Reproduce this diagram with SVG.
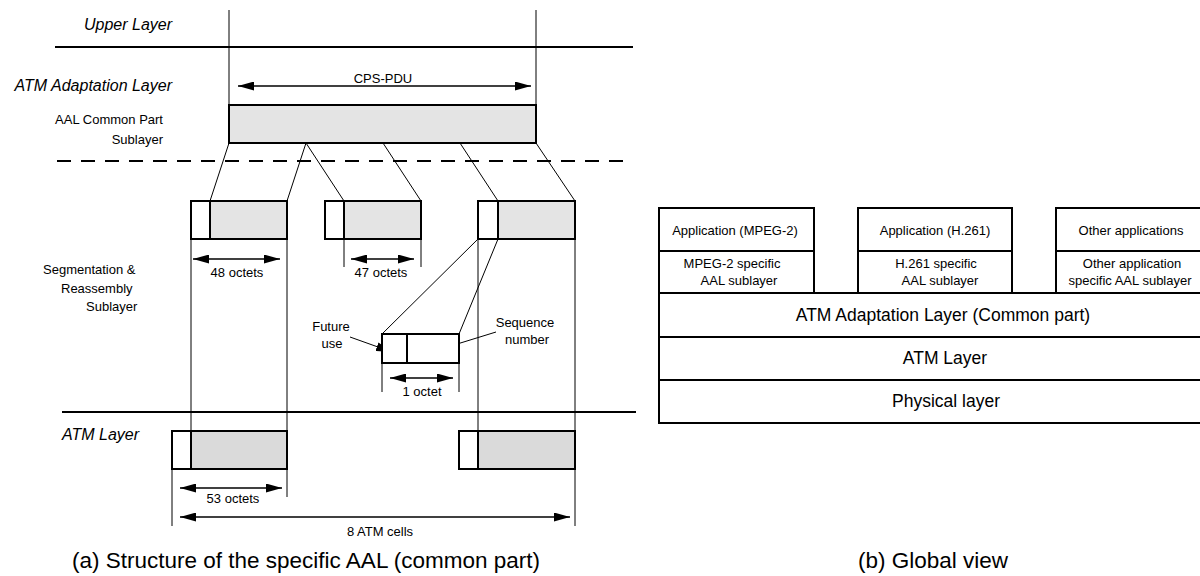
<svg xmlns="http://www.w3.org/2000/svg" width="1200" height="576" viewBox="0 0 1200 576">
<style>
text{font-family:"Liberation Sans",Arial,sans-serif;fill:#000}
.lay{font-size:16px;font-style:italic}
.lbl{font-size:13px}
.cap{font-size:22.5px}
.big{font-size:17.5px}
.ln{stroke:#000;stroke-width:1;fill:none}
.box{stroke:#000;stroke-width:2;fill:#fff}
.pay{stroke:#000;stroke-width:2;fill:#e4e4e4}
.cell{stroke:#000;stroke-width:2;fill:#dadada}
.rule{stroke:#000;stroke-width:2}
.dash{stroke:#000;stroke-width:2;stroke-dasharray:14 10}
.dim{stroke:#000;stroke-width:1.3;fill:none;marker-start:url(#ah);marker-end:url(#ah)}
.ptr{stroke:#000;stroke-width:1;fill:none;marker-end:url(#ah)}
</style>
<defs>
<marker id="ah" markerUnits="userSpaceOnUse" markerWidth="17" markerHeight="9" refX="16" refY="4.5" orient="auto-start-reverse" viewBox="0 0 17 9">
<path d="M0,0 L16,4.5 L0,9 z" fill="#000"/>
</marker>
</defs>
<rect width="1200" height="576" fill="#fff"/>

<!-- Panel (a) layer rules and labels -->
<g id="layers">
<line class="rule" x1="55" y1="47" x2="633" y2="47"/>
<line class="dash" x1="57" y1="161" x2="633" y2="161"/>
<line class="rule" x1="62" y1="412" x2="636" y2="412"/>
<text class="lay" x="172" y="30" text-anchor="end">Upper Layer</text>
<text class="lay" x="172" y="91" text-anchor="end">ATM Adaptation Layer</text>
<text class="lbl" x="163" y="124" text-anchor="end">AAL Common Part</text>
<text class="lbl" x="163" y="144" text-anchor="end">Sublayer</text>
<text class="lbl" x="43" y="274">Segmentation &amp;</text>
<text class="lbl" x="61" y="293">Reassembly</text>
<text class="lbl" x="86" y="311">Sublayer</text>
<text class="lay" x="62" y="440">ATM Layer</text>
</g>

<g id="connectors">
<!-- CPS extent lines -->
<line class="ln" x1="229" y1="10" x2="229" y2="105"/>
<line class="ln" x1="536" y1="10" x2="536" y2="105"/>
<!-- CPS to segments -->
<line class="ln" x1="229" y1="143" x2="210" y2="201"/>
<line class="ln" x1="306" y1="143" x2="287" y2="201"/>
<line class="ln" x1="306" y1="143" x2="344" y2="201"/>
<line class="ln" x1="383" y1="143" x2="421" y2="201"/>
<line class="ln" x1="460" y1="143" x2="498" y2="201"/>
<line class="ln" x1="536" y1="143" x2="575" y2="201"/>
<!-- segment verticals -->
<line class="ln" x1="191" y1="239" x2="191" y2="431"/>
<line class="ln" x1="287" y1="239" x2="287" y2="497"/>
<line class="ln" x1="344" y1="239" x2="344" y2="267"/>
<line class="ln" x1="421" y1="239" x2="421" y2="267"/>
<line class="ln" x1="478" y1="239" x2="478" y2="431"/>
<line class="ln" x1="575" y1="239" x2="575" y2="526"/>
<line class="ln" x1="172" y1="469" x2="172" y2="526"/>
<!-- zoom to header -->
<line class="ln" x1="478" y1="239" x2="382" y2="334"/>
<line class="ln" x1="498" y1="239" x2="459" y2="334"/>
<line class="ln" x1="382" y1="363" x2="382" y2="392"/>
<line class="ln" x1="459" y1="363" x2="459" y2="392"/>
<!-- dimension arrows -->
<line class="dim" x1="238" y1="86" x2="531" y2="86"/>
<line class="dim" x1="193" y1="259" x2="280" y2="259"/>
<line class="dim" x1="351" y1="259" x2="414" y2="259"/>
<line class="dim" x1="390" y1="378" x2="453" y2="378"/>
<line class="dim" x1="180" y1="488" x2="282" y2="488"/>
<line class="dim" x1="180" y1="517" x2="570" y2="517"/>
<!-- pointers -->
<line class="ptr" x1="350" y1="337" x2="392" y2="352"/>
<line class="ptr" x1="496" y1="332" x2="428" y2="353"/>
</g>

<g id="cps-pdu">
<rect class="pay" x="229" y="105" width="307" height="38"/>
<text class="lbl" x="383" y="83" text-anchor="middle">CPS-PDU</text>
</g>

<g id="segment-1">
<rect class="box" x="191" y="201" width="19" height="38"/>
<rect class="pay" x="210" y="201" width="77" height="38"/>
<text class="lbl" x="237" y="277" text-anchor="middle">48 octets</text>
</g>
<g id="segment-2">
<rect class="box" x="325" y="201" width="19" height="38"/>
<rect class="pay" x="344" y="201" width="77" height="38"/>
<text class="lbl" x="381" y="277" text-anchor="middle">47 octets</text>
</g>
<g id="segment-3">
<rect class="box" x="478" y="201" width="20" height="38"/>
<rect class="pay" x="498" y="201" width="77" height="38"/>
</g>

<g id="header">
<rect class="box" x="382" y="334" width="25" height="29"/>
<rect class="box" x="407" y="334" width="52" height="29"/>
<text class="lbl" x="331" y="331" text-anchor="middle">Future</text>
<text class="lbl" x="332" y="348" text-anchor="middle">use</text>
<text class="lbl" x="525" y="327" text-anchor="middle">Sequence</text>
<text class="lbl" x="527" y="344" text-anchor="middle">number</text>
<text class="lbl" x="422" y="396" text-anchor="middle">1 octet</text>
</g>

<g id="cell-1">
<rect class="box" x="172" y="431" width="19" height="38"/>
<rect class="cell" x="191" y="431" width="96" height="38"/>
<text class="lbl" x="233" y="503" text-anchor="middle">53 octets</text>
</g>
<g id="cell-2">
<rect class="box" x="459" y="431" width="19" height="38"/>
<rect class="cell" x="478" y="431" width="97" height="38"/>
<text class="lbl" x="380" y="536" text-anchor="middle">8 ATM cells</text>
</g>

<text class="cap" x="72" y="568">(a) Structure of the specific AAL (common part)</text>

<!-- Panel (b) -->
<g id="app-mpeg2">
<rect class="box" x="659" y="208" width="155" height="85"/>
<line class="rule" x1="659" y1="251" x2="814" y2="251"/>
<text class="lbl" x="735" y="235" text-anchor="middle">Application (MPEG-2)</text>
<text class="lbl" x="732" y="268" text-anchor="middle">MPEG-2 specific</text>
<text class="lbl" x="739" y="285" text-anchor="middle">AAL sublayer</text>
</g>
<g id="app-h261">
<rect class="box" x="858" y="208" width="154" height="85"/>
<line class="rule" x1="858" y1="251" x2="1012" y2="251"/>
<text class="lbl" x="935" y="235" text-anchor="middle">Application (H.261)</text>
<text class="lbl" x="936" y="268" text-anchor="middle">H.261 specific</text>
<text class="lbl" x="940" y="285" text-anchor="middle">AAL sublayer</text>
</g>
<g id="app-other">
<rect class="box" x="1056" y="208" width="156" height="85"/>
<line class="rule" x1="1056" y1="251" x2="1212" y2="251"/>
<text class="lbl" x="1131" y="235" text-anchor="middle">Other applications</text>
<text class="lbl" x="1132" y="268" text-anchor="middle">Other application</text>
<text class="lbl" x="1130" y="285" text-anchor="middle">specific AAL sublayer</text>
</g>
<g id="aal-common">
<rect class="box" x="659" y="293" width="553" height="44"/>
<text class="big" x="943" y="321" text-anchor="middle">ATM Adaptation Layer (Common part)</text>
</g>
<g id="atm-layer">
<rect class="box" x="659" y="337" width="553" height="43"/>
<text class="big" x="945" y="364" text-anchor="middle">ATM Layer</text>
</g>
<g id="physical-layer">
<rect class="box" x="659" y="380" width="553" height="43"/>
<text class="big" x="946" y="407" text-anchor="middle">Physical layer</text>
</g>

<text class="cap" x="933" y="568" text-anchor="middle">(b) Global view</text>
</svg>
